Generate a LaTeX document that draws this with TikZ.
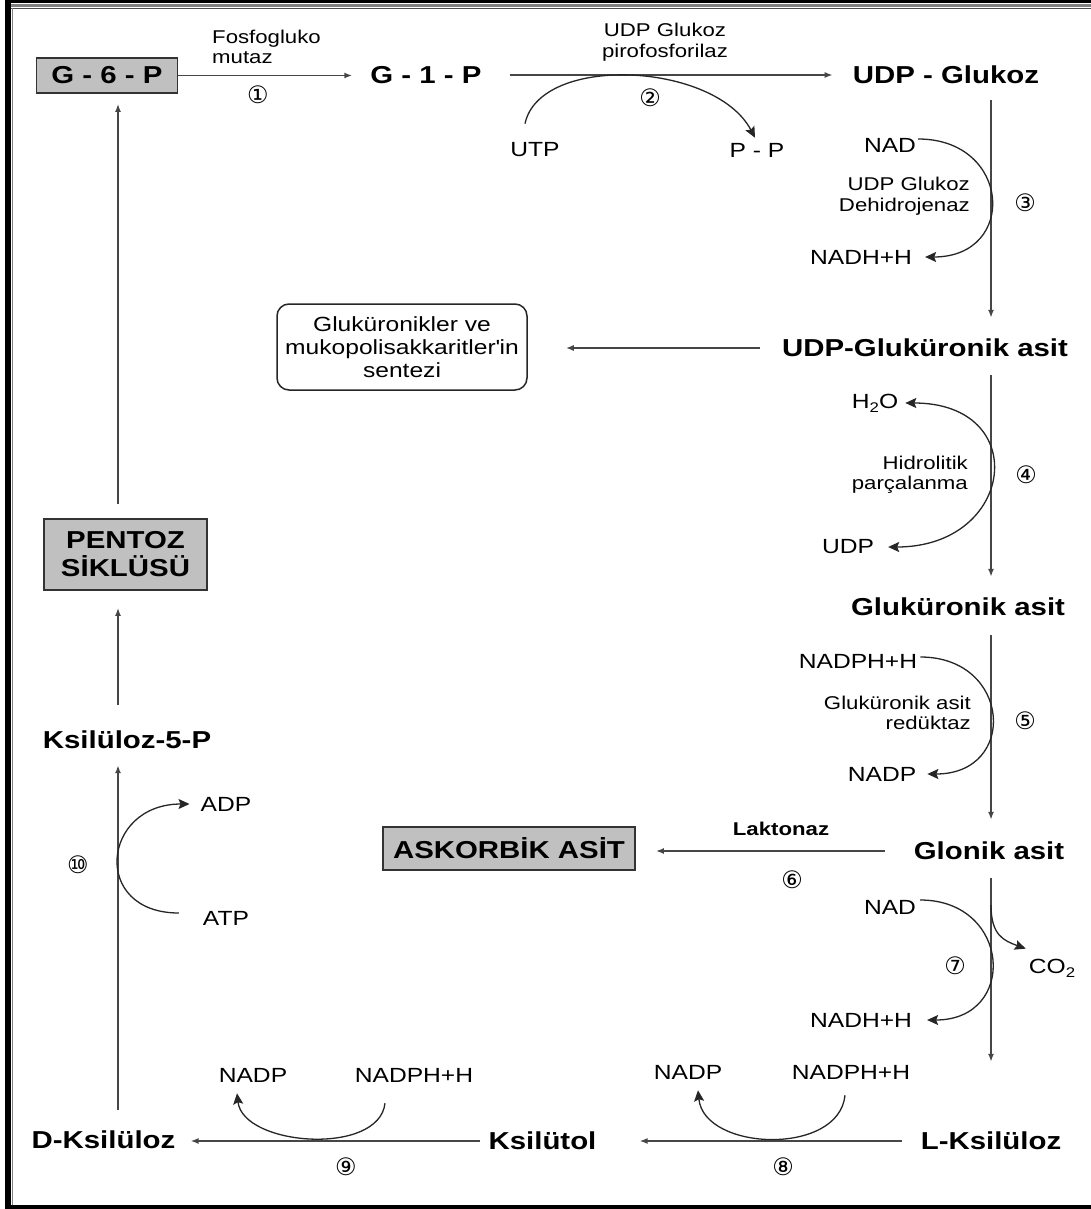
\documentclass[tikz,border=0pt]{standalone}
\usepackage{fontspec}
\setmainfont{Liberation Sans}[FakeStretch=1.2]
\newfontfamily\circfont{DejaVu Sans}
\usetikzlibrary{arrows.meta,calc}
\definecolor{boxgray}{RGB}{192,192,192}
\definecolor{linegray}{RGB}{70,70,70}
\tikzstyle{cmpd} = [inner sep=0pt, font=\fontsize{24.5}{28}\selectfont\bfseries]
\tikzstyle{mol} = [inner sep=0pt, font=\fontsize{20.5}{23}\selectfont]
\tikzstyle{enz} = [inner sep=0pt, font=\fontsize{18.5}{20.5}\selectfont]
\tikzstyle{graybox} = [cmpd, draw=black!80, line width=1.8pt, fill=boxgray]
\tikzstyle{rxn} = [draw=linegray, line width=1.6pt, -{Latex[length=8pt,width=6pt]}]
\tikzstyle{side} = [draw=black!85, line width=1.3pt, -{Stealth[length=11pt,width=10pt,inset=2pt]}]
\tikzstyle{sideboth} = [side, {Stealth[length=11pt,width=10pt,inset=2pt]}-{Stealth[length=11pt,width=10pt,inset=2pt]}]
\newcommand{\stepno}[3]{\node [inner sep=0pt, font=\circfont\fontsize{24}{24}\selectfont] (#1) at (#2) {#3};}

\begin{document}
\begin{tikzpicture}[x=1pt,y=-1pt]
	\useasboundingbox (0,0) rectangle (1091,1209);
	\fill[white] (0,0) rectangle (1091,1209);
	\draw[line width=3pt] (5,2) -- (1091,2);
	\draw[line width=3pt, gray] (11,6) -- (1091,6);
	\draw[line width=1pt, black!70] (11,8.5) -- (1091,8.5);
	\draw[line width=6pt] (8,0) -- (8,1209);
	\draw[line width=1.5pt, gray] (12.5,8) -- (12.5,1205);
	\draw[line width=4pt] (5,1207) -- (1091,1207);

	\coordinate (colR) at (991,0);
	\coordinate (colL) at (118,0);

	% main compounds
	\node [graybox, minimum width=141pt, minimum height=35pt] (g6p) at (107,75.5) {G - 6 - P};
	\node [cmpd] (g1p) at (426,75) {G - 1 - P};
	\node [cmpd] (udpglc) at (946,75) {UDP - Glukoz};
	\node [cmpd] (udpgla) at (925,348) {UDP-Gluküronik asit};
	\node [cmpd] (glcasit) at (958,607) {Gluküronik asit};
	\node [cmpd] (glonik) at (989,851) {Glonik asit};
	\node [cmpd] (lksil) at (991,1141) {L-Ksilüloz};
	\node [cmpd] (ksilitol) at (542.5,1141) {Ksilütol};
	\node [cmpd] (dksil) at (103.5,1140) {D-Ksilüloz};
	\node [cmpd] (ksilp) at (127,740) {Ksilüloz-5-P};
	\node [graybox, minimum width=163pt, minimum height=71pt, align=center] (pentoz) at (125.5,554.5) {PENTOZ\\SİKLÜSÜ};
	\node [graybox, minimum width=252pt, minimum height=43pt] (askorbik) at (509,848.5) {ASKORBİK ASİT};
	\node [mol, draw=black!85, line width=1.5pt, rounded corners=12pt, minimum width=250pt, minimum height=86pt, align=center] (sentez) at (402,347) {Gluküronikler ve\\mukopolisakkaritler\textquotesingle in\\sentezi};

	% main pathway
	\draw [rxn, shorten >=18pt] (g6p.east) -- (g1p.west |- g6p.east);
	\draw [rxn, shorten <=28pt, shorten >=20pt] (g1p.east) -- (udpglc.west);
	\draw [rxn, shorten <=16pt, shorten >=21pt] (udpglc.south -| colR) -- (udpgla.north -| colR);
	\draw [rxn, shorten <=22pt, shorten >=38pt] (udpgla.west) -- (sentez.east |- udpgla.west);
	\draw [rxn, shorten <=18pt, shorten >=21pt] (udpgla.south -| colR) -- (glcasit.north -| colR);
	\draw [rxn, shorten <=19pt, shorten >=22pt] (glcasit.south -| colR) -- (glonik.north -| colR);
	\draw [rxn, shorten <=29pt, shorten >=20pt] (glonik.west) -- (askorbik.east |- glonik.west);
	\draw [rxn, shorten <=18pt, shorten >=70pt] (glonik.south -| colR) -- (lksil.north -| colR);
	\draw [rxn, shorten <=19pt, shorten >=43pt] (lksil.west) -- (ksilitol.east);
	\draw [rxn, shorten <=8pt, shorten >=15pt] (ksilitol.west) -- (dksil.east |- ksilitol.west);
	\draw [rxn, shorten <=21pt, shorten >=16pt] (dksil.north -| colL) -- (ksilp.south -| colL);
	\draw [rxn, shorten <=26pt, shorten >=17pt] (ksilp.north -| colL) -- (pentoz.south -| colL);
	\draw [rxn, shorten <=14pt, shorten >=10pt] (pentoz.north -| colL) -- (g6p.south -| colL);

	% enzymes
	\node [enz, anchor=west, align=left] (enz1) at (212,47) {Fosfogluko\\mutaz};
	\node [enz, align=center] (enz2) at (665,42) {UDP Glukoz\\pirofosforilaz};
	\node [enz, anchor=east, align=right] (enz3) at (970,196) {UDP Glukoz\\Dehidrojenaz};
	\node [enz, anchor=east, align=right] (enz4) at (968,475) {Hidrolitik\\parçalanma};
	\node [enz, anchor=east, align=right] (enz5) at (971,713) {Gluküronik asit\\redüktaz};
	\node [enz, font=\fontsize{18.5}{20.5}\selectfont\bfseries] (enz6) at (781,829) {Laktonaz};

	% cofactors
	\node [mol] (utp) at (535,150) {UTP};
	\node [mol] (pp) at (757,150) {P - P};
	\node [mol] (nad3) at (890,145) {NAD};
	\node [mol] (nadh3) at (861,257) {NADH+H};
	\node [mol] (hoh) at (875,403) {H{\fontsize{14}{14}\selectfont\raisebox{-4pt}{2}}O};
	\node [mol] (udp) at (848,547) {UDP};
	\node [mol] (nadph5) at (858,661) {NADPH+H};
	\node [mol] (nadp5) at (882,774) {NADP};
	\node [mol] (nad7) at (890,907) {NAD};
	\node [mol] (nadh7) at (861,1020) {NADH+H};
	\node [mol] (co2) at (1052,968) {CO{\fontsize{14}{14}\selectfont\raisebox{-4pt}{2}}};
	\node [mol] (nadp8) at (688,1072) {NADP};
	\node [mol] (nadph8) at (851,1072) {NADPH+H};
	\node [mol] (nadp9) at (253,1075) {NADP};
	\node [mol] (nadph9) at (414,1075) {NADPH+H};
	\node [mol] (adp) at (226,804) {ADP};
	\node [mol] (atp) at (226,918) {ATP};

	% side reactions
	\draw [side] ([xshift=-10pt,yshift=19pt]utp.north) .. controls +(15,-70) and +(-40,-76) .. ([xshift=-2pt,yshift=5pt]pp.north);
	\draw [side] ([xshift=2pt,yshift=6pt]nad3.east) .. controls +(93,0) and +(93,0) .. ([xshift=13pt]nadh3.east);
	\draw [sideboth] ([xshift=7pt]hoh.east) .. controls +(127,0) and +(127,0) .. ([xshift=14pt]udp.east);
	\draw [side] ([xshift=3pt,yshift=4pt]nadph5.east) .. controls +(91,0) and +(91,0) .. ([xshift=11pt]nadp5.east);
	\draw [side] ([xshift=4pt,yshift=7pt]nad7.east) .. controls +(91,0) and +(91,0) .. ([xshift=15pt]nadh7.east);
	\coordinate (co2s) at ($(glonik.south -| colR)+(0,45)$);
	\draw [side] (co2s) .. controls +(0,30) and +(-22,-8) .. ([xshift=-3pt,yshift=10pt]co2.north west);
	\draw [side] ([xshift=-6pt,yshift=-16pt]nadph8.south) .. controls +(-6,61) and +(6,61) .. ([xshift=10pt,yshift=-11pt]nadp8.south);
	\draw [side] ([xshift=-29pt,yshift=-21pt]nadph9.south) .. controls +(-6,53) and +(6,53) .. ([xshift=-16pt,yshift=-11pt]nadp9.south);
	\draw [side] ([xshift=-24pt,yshift=5pt]atp.west) .. controls +(-88,0) and +(-88,0) .. ([xshift=-11pt]adp.west);

	% step numbers
	\stepno{n1}{258,95}{①}
	\stepno{n2}{650,98}{②}
	\stepno{n3}{1025,203}{③}
	\stepno{n4}{1026,475}{④}
	\stepno{n5}{1025,721}{⑤}
	\stepno{n6}{792,880}{⑥}
	\stepno{n7}{955,966}{⑦}
	\stepno{n8}{783,1167}{⑧}
	\stepno{n9}{346,1167}{⑨}
	\stepno{n10}{78,865}{⑩}
\end{tikzpicture}
\end{document}
